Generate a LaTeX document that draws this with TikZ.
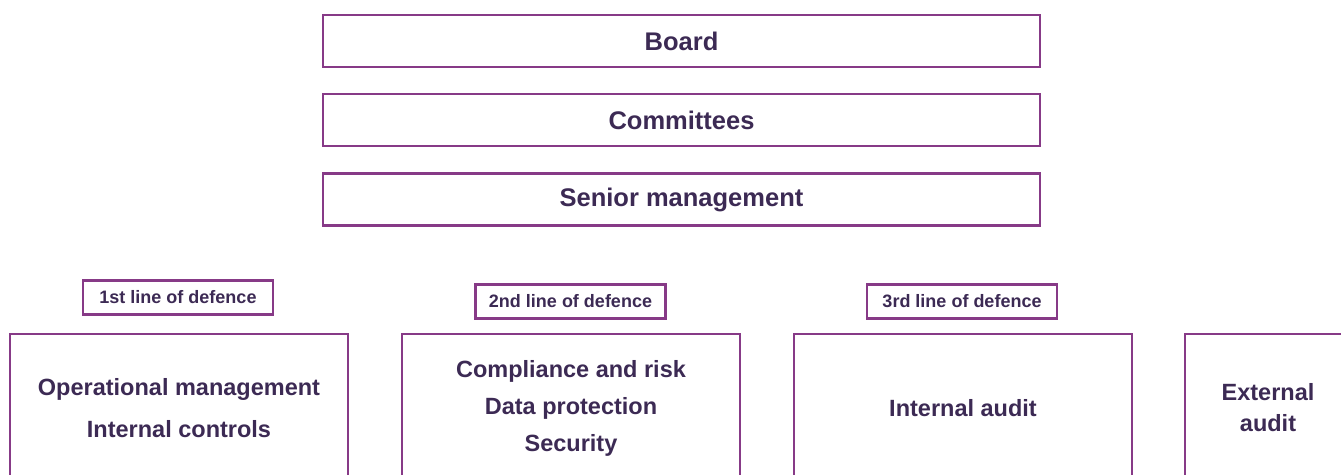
\documentclass[tikz,border=0pt]{standalone}
\usepackage{fontspec}
\setmainfont{Liberation Sans}
\usepackage{xcolor}
\definecolor{DefencePurple}{HTML}{873A87}
\definecolor{DefenceInk}{HTML}{3C2A54}

\begin{document}
\begin{tikzpicture}[
            x=1pt, y=-1pt,
            govbox/.style={draw=DefencePurple, line width=2.6pt, minimum width=717pt, minimum height=52pt, inner sep=0pt, align=center, text=DefenceInk, font=\fontsize{25.5}{30}\selectfont\bfseries},
            linetag/.style={draw=DefencePurple, line width=2.6pt, minimum width=190pt, minimum height=34pt, inner sep=0pt, align=center, text=DefenceInk, font=\fontsize{18}{22}\selectfont\bfseries},
            linebox/.style={draw=DefencePurple, line width=2.6pt, minimum width=338pt, minimum height=148pt, inner sep=0pt, align=center, text=DefenceInk, font=\fontsize{23.5}{37}\selectfont\bfseries}
        ]
            \clip (0,0) rectangle (1341,474);
            \useasboundingbox (0,0) rectangle (1341,474);
            % governance
            \node[govbox] (board) at (681.5,41) {Board};
            \node[govbox] (committees) at (681.5,120) {Committees};
            \node[govbox] (senior) at (681.5,199.5) {Senior management};
            % lines of defence
            \node[linetag] (tag1) at (178,297.5) {1st line of defence};
            \node[linetag] (tag2) at (570.5,301.5) {2nd line of defence};
            \node[linetag] (tag3) at (962,301.5) {3rd line of defence};
            \node[linebox, font=\fontsize{23.5}{42}\selectfont\bfseries] (first) at (179,408) {Operational management\\Internal controls};
            \node[linebox] (second) at (571,408) {Compliance and risk\\Data protection\\Security};
            \node[linebox] (third) at (963,408) {Internal audit};
            \node[linebox, minimum width=166pt, font=\fontsize{23.5}{31}\selectfont\bfseries] (external) at (1268,408) {External\\audit};
        \end{tikzpicture}
\end{document}
